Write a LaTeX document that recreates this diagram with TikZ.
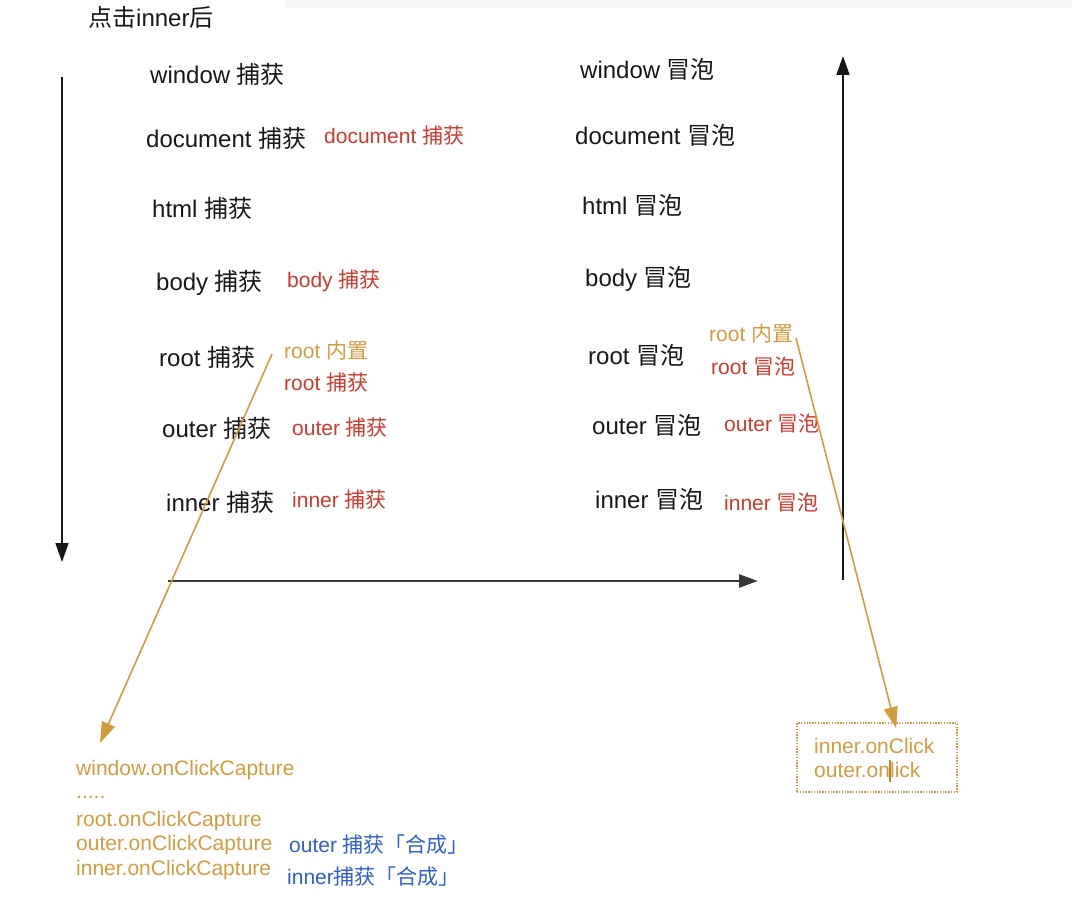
\documentclass[tikz,border=0pt]{standalone}
\usepackage{fontspec}
\setmainfont{Liberation Sans}
\newfontfamily\cjk[Scale=1.0]{Noto Sans CJK SC}
\usetikzlibrary{arrows.meta}
\definecolor{tred}{RGB}{204,58,46}
\definecolor{tgold}{RGB}{210,156,62}
\definecolor{tblue}{RGB}{48,94,204}
\definecolor{tblack}{RGB}{24,24,24}
\newcommand\zh[1]{{\cjk #1}}
\begin{document}
\begin{tikzpicture}[x=1pt,y=-1pt,
  lbl/.style={anchor=west,inner sep=0pt,text=tblack,font=\fontsize{24}{28}\selectfont},
  redl/.style={anchor=west,inner sep=0pt,text=tred,font=\fontsize{21}{25}\selectfont},
  goldl/.style={anchor=west,inner sep=0pt,text=tgold,font=\fontsize{21}{25}\selectfont},
  bluel/.style={anchor=west,inner sep=0pt,text=tblue,font=\fontsize{21}{25}\selectfont},
  axisline/.style={draw=tblack,line width=1.7pt,-{Triangle[length=19pt,width=13pt]}},
  ptr/.style={draw=tgold,line width=1.6pt,-{Triangle[length=21pt,width=14pt]}},
  dotbox/.style={draw=tgold,line width=1.2pt,dash pattern=on 1.4pt off 1.4pt,inner sep=0pt,minimum width=160pt,minimum height=69pt}
]
\useasboundingbox (0,0) rectangle (1072,915);
\fill[black!3] (285,0) rectangle (1072,8);

% title
\node[lbl] (title) at (88,17) {\zh{点击}inner\zh{后}};

% capture column
\node[lbl] (wc) at (150,74) {window \zh{捕获}};
\node[lbl] (dc) at (146,138) {document \zh{捕获}};
\node[lbl] (hc) at (152,208) {html \zh{捕获}};
\node[lbl] (bc) at (156,283) {body \zh{捕获}};
\node[lbl] (rc) at (159,357) {root \zh{捕获}};
\node[lbl] (oc) at (162,428) {outer \zh{捕获}};
\node[lbl] (ic) at (166,502) {inner \zh{捕获}};

\node[redl] (dcr) at (324,136) {document \zh{捕获}};
\node[redl] (bcr) at (287,281) {body \zh{捕获}};
\node[goldl] (rin1) at (284,351) {root \zh{内置}};
\node[redl] (rcr) at (284,383) {root \zh{捕获}};
\node[redl] (ocr) at (292,428) {outer \zh{捕获}};
\node[redl] (icr) at (292,500) {inner \zh{捕获}};

% bubble column
\node[lbl] (wb) at (580,69) {window \zh{冒泡}};
\node[lbl] (db) at (575,135) {document \zh{冒泡}};
\node[lbl] (hb) at (582,205) {html \zh{冒泡}};
\node[lbl] (bb) at (585,279) {body \zh{冒泡}};
\node[lbl] (rb) at (588,355) {root \zh{冒泡}};
\node[lbl] (ob) at (592,425) {outer \zh{冒泡}};
\node[lbl] (ib) at (595,499) {inner \zh{冒泡}};

\node[goldl] (rin2) at (709,334) {root \zh{内置}};
\node[redl] (rbr) at (711,366) {root \zh{冒泡}};
\node[redl] (obr) at (724,423) {outer \zh{冒泡}};
\node[redl] (ibr) at (724,502) {inner \zh{冒泡}};

% axes
\coordinate (v1s) at (62,77);
\coordinate (v1e) at (62,562);
\coordinate (hs) at (168,581);
\coordinate (he) at (758,581);
\coordinate (v2s) at (843,580);
\coordinate (v2e) at (843,56);
\draw[axisline] (v1s) -- (v1e);
\draw[axisline,line width=2.6pt,draw=black!78] (hs) -- (he);
\draw[axisline] (v2s) -- (v2e);

% synthetic capture list
\node[goldl] (l1) at (76,770) {window.onClickCapture};
\node[goldl] (l2) at (76,797) {.....};
\node[goldl] (l3) at (76,821) {root.onClickCapture};
\node[goldl] (l4) at (76,845) {outer.onClickCapture};
\node[goldl] (l5) at (76,870) {inner.onClickCapture};
\node[bluel] (b1) at (289,845) {outer \zh{捕获「合成」}};
\node[bluel] (b2) at (287,877) {inner\zh{捕获「合成」}};

% bubble box
\node[dotbox] (box) at (877,757.5) {};
\node[goldl] (t1) at (814,746) {inner.onClick};
\node[goldl] (t2) at (814,771) {outer.on\makebox[0pt]{\color{tgold!85!black}\rule[-5pt]{1.3pt}{22pt}}lick};

% pointers
\coordinate (p1s) at (272,354);
\coordinate (p1e) at (100,743);
\coordinate (p2s) at (796,338);
\coordinate (p2e) at (896,728);
\draw[ptr] (p1s) -- (p1e);
\draw[ptr] (p2s) -- (p2e);
\end{tikzpicture}
\end{document}
